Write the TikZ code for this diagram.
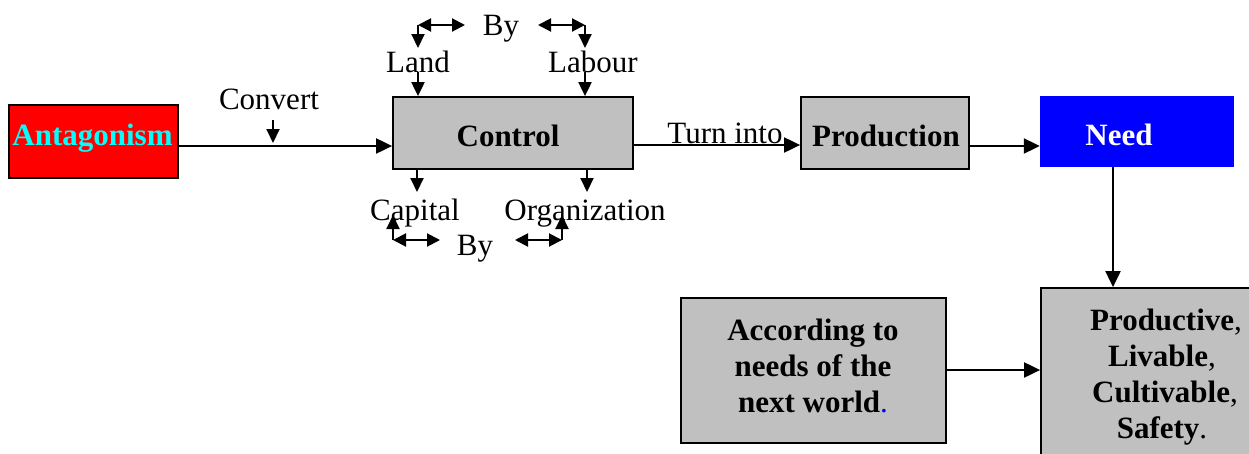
\documentclass[tikz,border=0pt]{standalone}
\usepackage{fontspec}
\setmainfont{Liberation Serif}
\usetikzlibrary{arrows.meta}
\definecolor{boxgray}{RGB}{192,192,192}
\definecolor{aqua}{RGB}{0,255,255}
\definecolor{pured}{RGB}{255,0,0}
\definecolor{pureblue}{RGB}{0,0,255}
\begin{document}
\begin{tikzpicture}[x=1pt,y=-1pt,
  box/.style={draw=black, line width=1.8pt, fill=boxgray, inner sep=0pt},
  txt/.style={font=\fontsize{31}{36}\selectfont, inner sep=0pt, anchor=base},
  btxt/.style={txt, font=\fontsize{31}{36}\selectfont\bfseries},
  arr/.style={line width=2pt, -{Triangle[length=16pt,width=15pt]}},
  sarr/.style={line width=2pt, -{Triangle[length=14pt,width=13pt]}},
  dbl/.style={line width=2pt, {Triangle[length=13pt,width=13pt]}-{Triangle[length=13pt,width=13pt]}}]
\path[use as bounding box, clip] (0,0) rectangle (1249,453);

% boxes
\node[box, fill=pured, minimum width=169pt, minimum height=73pt] (ant) at (93.5,141.5) {};
\node[box, minimum width=240pt, minimum height=72pt] (ctrl) at (513,133) {};
\node[box, minimum width=168pt, minimum height=72pt] (prod) at (885,133) {};
\node[draw=none, fill=pureblue, inner sep=0pt, minimum width=194pt, minimum height=71pt] (need) at (1137,131.5) {};
\node[box, minimum width=265pt, minimum height=145pt] (acc) at (813.5,370.5) {};
\node[box, minimum width=246pt, minimum height=192pt] (rbox) at (1164,384) {};

% box texts
\node[btxt, text=aqua] (anttxt) at (92.5,145) {Antagonism};
\node[btxt] (ctrltxt) at (508,146) {Control};
\node[btxt] (prodtxt) at (886,146) {Production};
\node[btxt, text=white] (needtxt) at (1119,145) {Need};
\node[btxt] (acc1) at (813,340) {According to};
\node[btxt] (acc2) at (813,376) {needs of the};
\node[btxt] (acc3) at (813,412) {next world\textcolor{pureblue}{\mdseries .}};
\node[btxt] (r1) at (1166,330) {Productive\mdseries ,};
\node[btxt] (r2) at (1162,366) {Livable\mdseries ,};
\node[btxt] (r3) at (1165,402) {Cultivable\mdseries ,};
\node[btxt] (r4) at (1162,438) {Safety\mdseries .};

% labels
\node[txt] (convert) at (269,109) {Convert};
\node[txt] (turn) at (725,143) {Turn into};
\node[txt] (bytop) at (501,35) {By};
\node[txt] (land) at (418,72) {Land};
\node[txt] (labour) at (593,72) {Labour};
\node[txt] (capital) at (415,220) {Capital};
\node[txt] (org) at (585,220) {Organization};
\node[txt] (bybot) at (475,255) {By};

% helper coordinates
\coordinate (y146) at (0,146);
\coordinate (y145) at (0,145);
\coordinate (y370) at (0,370);
\coordinate (x1113) at (1113,0);

% main connectors
\draw[arr] (ant.east |- y146) -- (ctrl.west |- y146);
\draw[arr] (ctrl.east |- y145) -- (prod.west |- y145);
\draw[arr] (prod.east |- y146) -- (need.west |- y146);
\draw[arr] (need.south -| x1113) -- (rbox.north -| x1113);
\draw[arr] (acc.east |- y370) -- (rbox.west |- y370);

% convert marker
\coordinate (cvA) at (273,120);
\coordinate (cvB) at (273,143);
\draw[sarr] (cvA) -- (cvB);

% top: Land / Labour
\coordinate (ltl) at (418,25);
\coordinate (ltr) at (465,25);
\coordinate (ltd) at (418,48);
\draw[dbl] (ltl) -- (ltr);
\draw[sarr] (ltl) -- (ltd);
\draw[sarr] (418,72) -- (ctrl.north -| ltl);

\coordinate (rtl) at (538,25);
\coordinate (rtr) at (585,25);
\coordinate (rtd) at (585,48);
\draw[dbl] (rtl) -- (rtr);
\draw[sarr] (rtr) -- (rtd);
\draw[sarr] (585,72) -- (ctrl.north -| rtr);

% bottom: Capital / Organization
\coordinate (cpx) at (417,192);
\draw[sarr] (ctrl.south -| cpx) -- (cpx);
\coordinate (ogx) at (587,192);
\draw[sarr] (ctrl.south -| ogx) -- (ogx);

\coordinate (blA) at (393,240);
\coordinate (blB) at (440,240);
\coordinate (blU) at (393,215);
\draw[dbl] (blA) -- (blB);
\draw[sarr] (blA) -- (blU);

\coordinate (brA) at (515,240);
\coordinate (brB) at (562,240);
\coordinate (brU) at (562,215);
\draw[dbl] (brA) -- (brB);
\draw[sarr] (brB) -- (brU);
\end{tikzpicture}
\end{document}
